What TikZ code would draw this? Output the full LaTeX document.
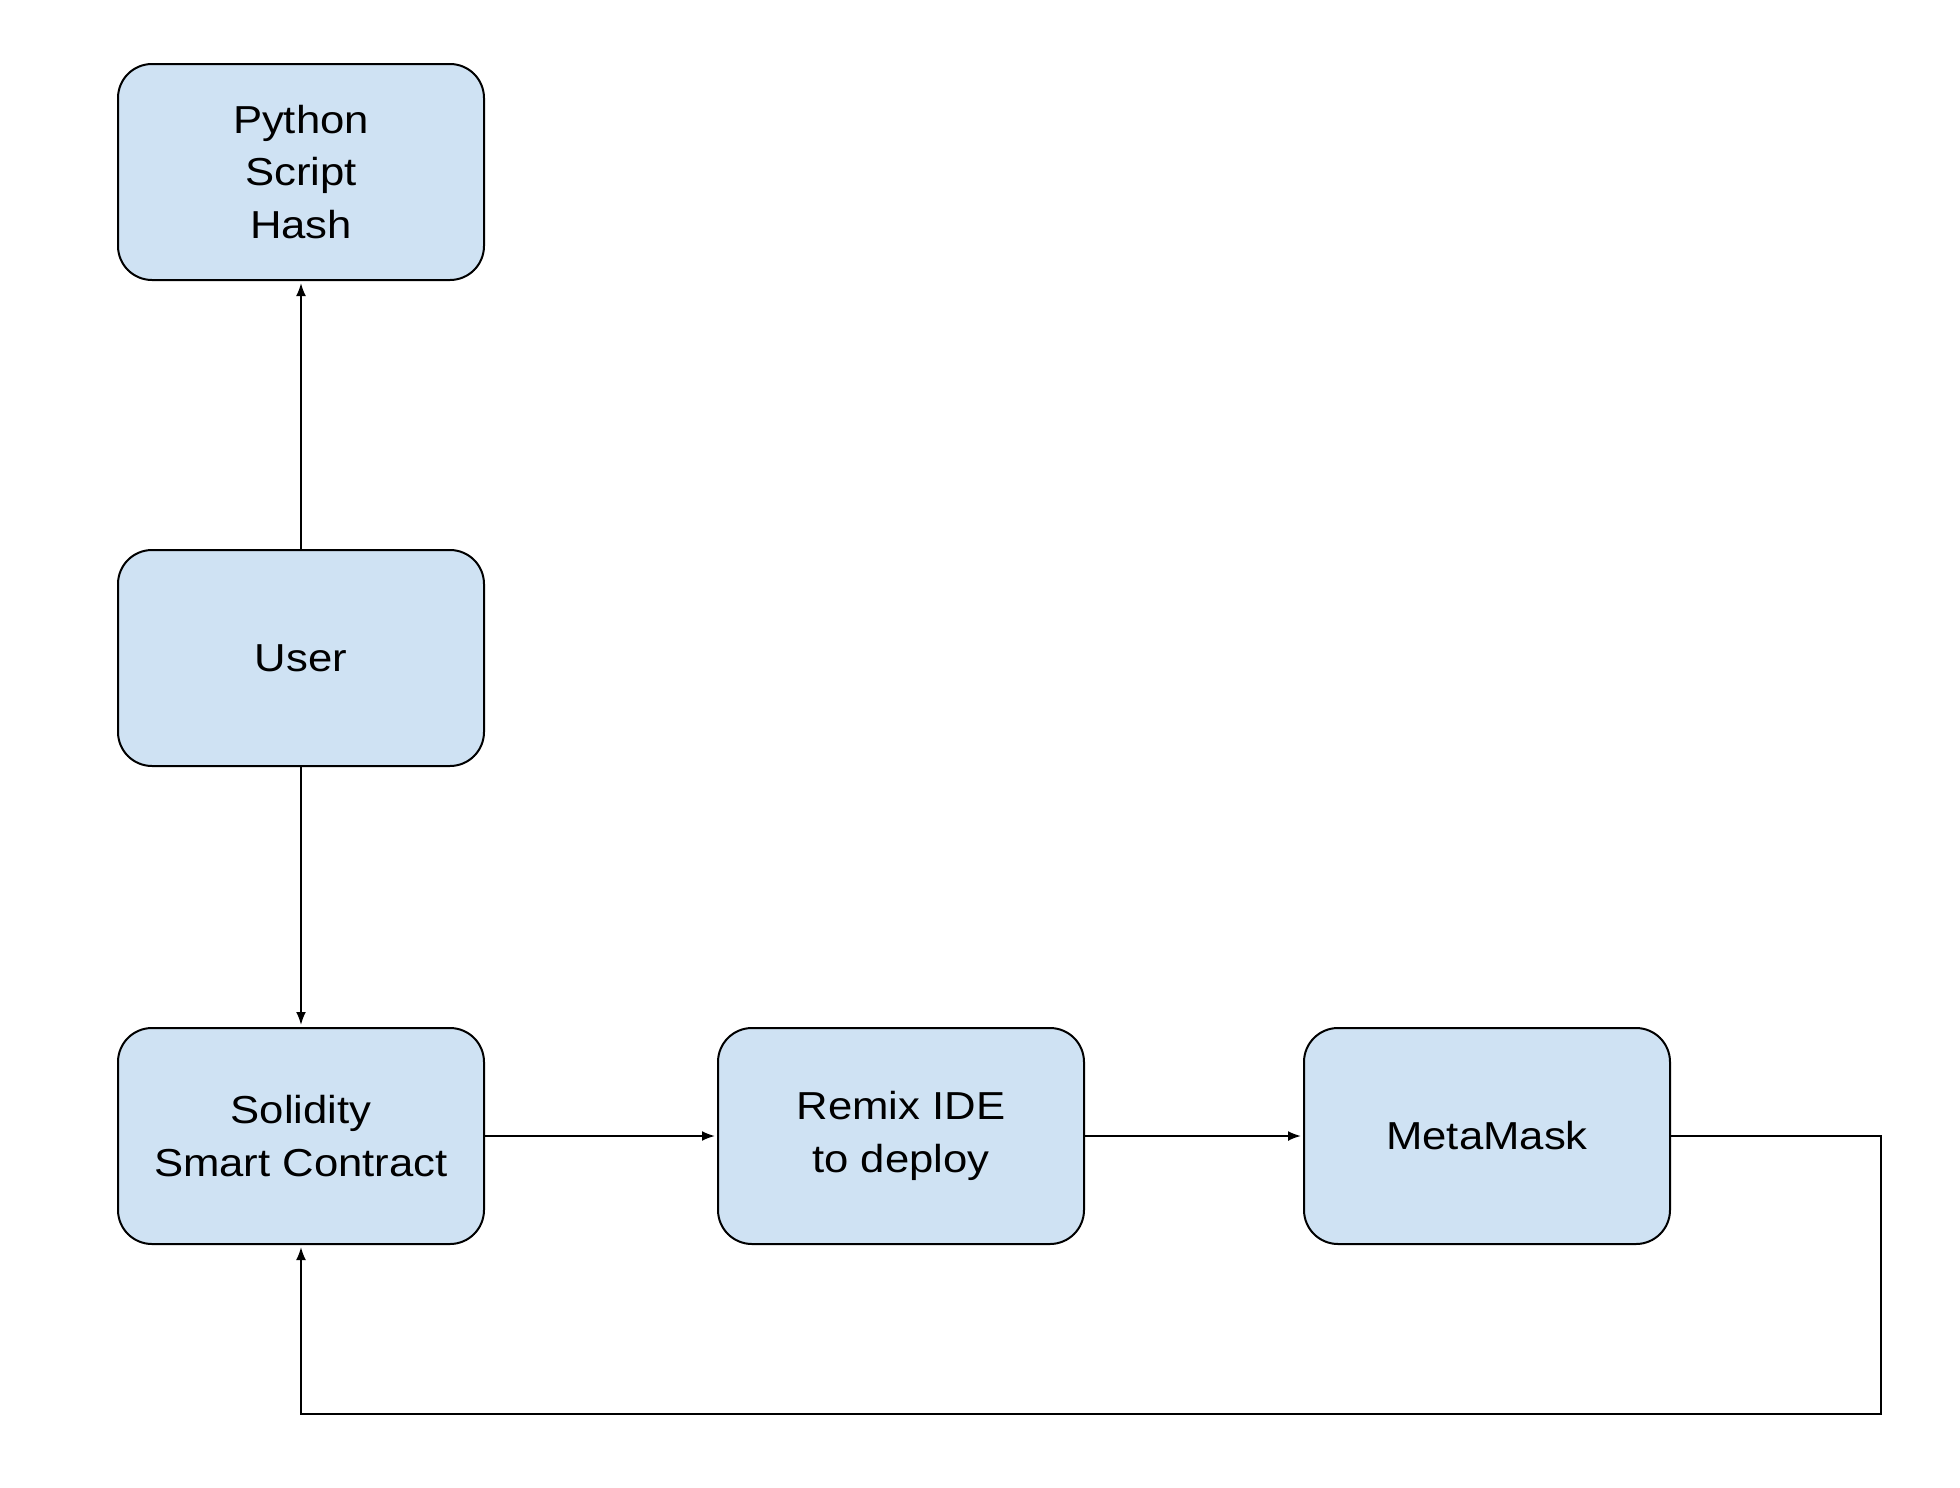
\documentclass[tikz,border=0pt]{standalone}
\usepackage{fontspec}
\setmainfont{Liberation Sans}[FakeStretch=1.12]
\usepackage{tikz}
\usetikzlibrary{arrows.meta}
\definecolor{boxblue}{HTML}{CFE2F3}
\begin{document}
\begin{tikzpicture}[x=0.5pt, y=-0.5pt,
    block/.style={draw, line width=1pt, fill=boxblue, rounded corners=17pt,
      minimum width=183pt, minimum height=108pt, align=center,
      font=\fontsize{19.5}{26.4}\selectfont},
    link/.style={line width=1pt, -{Latex[length=6.5pt, width=5pt]}, shorten >=1pt}]
      \useasboundingbox (0, 0) rectangle (1960, 1488);
      \node[block] (python) at (301, 172) {Python\\Script\\Hash};
      \node[block] (user) at (301, 658) {User};
      \node[block] (solidity) at (301, 1136) {Solidity\\Smart Contract};
      \node[block] (remix) at (901, 1136) {Remix IDE\\to deploy};
      \node[block] (metamask) at (1487, 1136) {MetaMask};
      \coordinate (turn1) at (1881, 1136);
      \coordinate (turn2) at (1881, 1414);
      \coordinate (turn3) at (301, 1414);
      \draw[link] (user) -- (python);
      \draw[link] (user) -- (solidity);
      \draw[link] (solidity) -- (remix);
      \draw[link] (remix) -- (metamask);
      \draw[link] (metamask) -- (turn1) -- (turn2) -- (turn3) -- (solidity);
    \end{tikzpicture}
\end{document}
